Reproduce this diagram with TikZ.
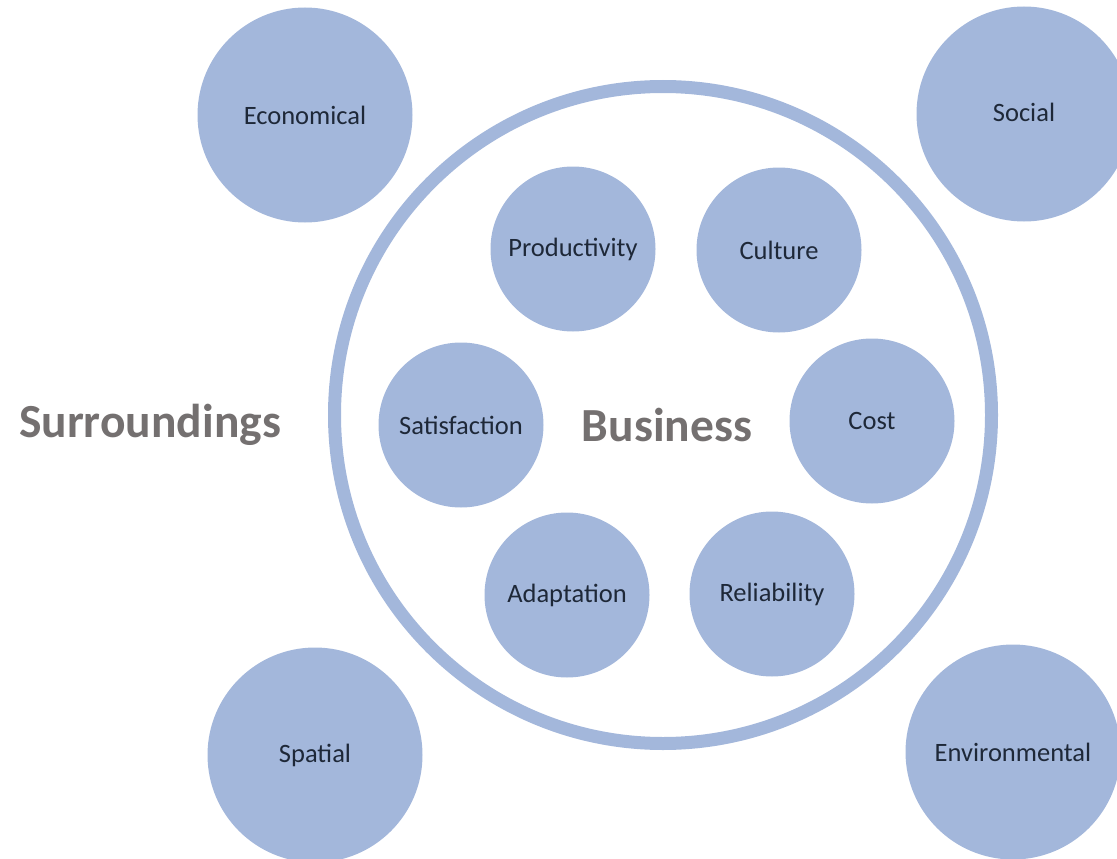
\documentclass[tikz,border=0pt]{standalone}
\usepackage{fontspec}
\setmainfont{Carlito}
\definecolor{bubble}{RGB}{163,183,219}
\definecolor{labeltext}{RGB}{30,40,56}
\definecolor{titlegray}{RGB}{116,112,112}
\begin{document}
\begin{tikzpicture}[x=1pt,y=-1pt,
  bigbubble/.style={circle,fill=bubble,draw=none,minimum size=215pt,inner sep=0pt,
    text=labeltext,font=\fontsize{26.5}{30}\selectfont},
  smallbubble/.style={circle,fill=bubble,draw=none,minimum size=165pt,inner sep=0pt,
    text=labeltext,font=\fontsize{26.5}{30}\selectfont},
  title/.style={text=titlegray,font=\bfseries\fontsize{47.5}{56}\selectfont,inner sep=0pt}]
\useasboundingbox (0,0) rectangle (1117,859);
\clip (0,0) rectangle (1117,859);
% business ring
\node[circle,draw=bubble,line width=13pt,minimum size=657pt,inner sep=0pt] (ring) at (663,415) {};
% outer surroundings
\node[bigbubble] (econ) at (305,115) {Economical};
\node[bigbubble] (social) at (1024,114) {\raisebox{3pt}{Social}};
\node[bigbubble] (spatial) at (315,755) {\raisebox{-4pt}{Spatial}};
\node[bigbubble] (env) at (1013,752) {\raisebox{-3pt}{Environmental}};
% inner business
\node[smallbubble] (prod) at (573,249) {Productivity};
\node[smallbubble] (cult) at (779,250) {Culture};
\node[smallbubble] (sat) at (461,425) {Satisfaction};
\node[smallbubble] (cost) at (872,421) {Cost};
\node[smallbubble] (adapt) at (567,595) {\raisebox{-3pt}{Adaptation}};
\node[smallbubble] (rel) at (772,594) {\raisebox{-3pt}{Reliability}};
% titles
\node[title] (surr) at (150,425) {Surroundings};
\node[title] (bus) at (667,425) {Business};
\end{tikzpicture}
\end{document}
